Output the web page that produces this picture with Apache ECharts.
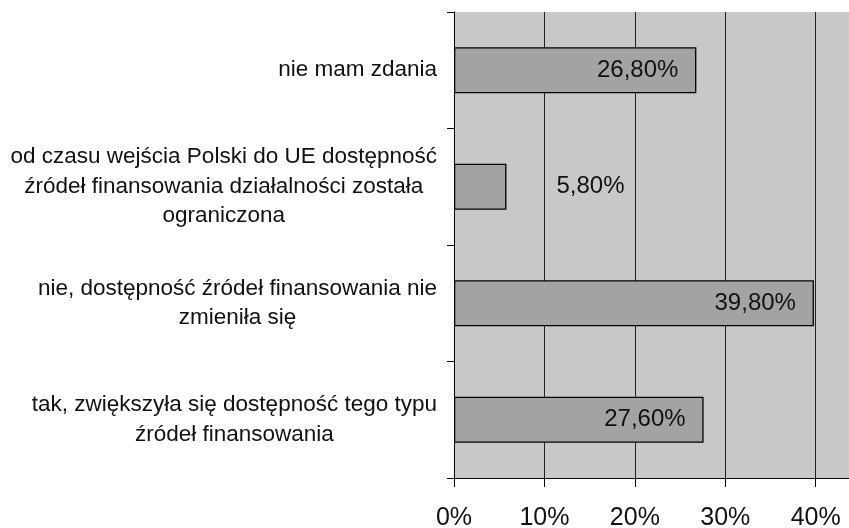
<!DOCTYPE html>
<html lang="pl">
<head>
<meta charset="UTF-8">
<title>Dostępność źródeł finansowania</title>
<script src="https://cdn.jsdelivr.net/npm/echarts@6/dist/echarts.min.js"></script>
<style>
  html, body { margin: 0; padding: 0; background: #fff; }
  #main { width: 849px; height: 528px; }
</style>
</head>
<body>
<div id="main"></div>
<script>
// categories listed top to bottom (axis is inverted)
var categories = [
  'nie mam zdania',
  'od czasu wejścia Polski do UE dostępność\nźródeł finansowania działalności została\nograniczona',
  'nie, dostępność źródeł finansowania nie\nzmieniła się',
  'tak, zwiększyła się dostępność tego typu\nźródeł finansowania'
];
var values = [26.8, 5.8, 39.8, 27.6];
var xTicks = [0, 10, 20, 30, 40];

var font = '"Liberation Sans", Arial, sans-serif';

function pct(v) {
  return v.toFixed(2).replace('.', ',') + '%';
}

var seriesData = values.map(function (v) {
  var item = { value: v };
  // short bar: label sits outside, like in the source chart
  if (v < 10) {
    item.label = { position: 'right', distance: 50 };
  }
  return item;
});

var myChart = echarts.init(document.getElementById('main'));
var option = {
  animation: false,
  grid: {
    left: 454,
    right: -2,
    top: 12,
    bottom: 50,
    outerBoundsMode: 'none',
    show: true,
    backgroundColor: '#c8c8c8',
    borderWidth: 0
  },
  xAxis: {
    type: 'value',
    min: xTicks[0],
    max: 43.9,
    interval: 10,
    axisLine: { show: true, lineStyle: { color: '#000', width: 1 } },
    axisTick: { show: true, length: 9, lineStyle: { color: '#000' } },
    splitLine: { show: true, lineStyle: { color: '#222', width: 1 } },
    axisLabel: {
      formatter: '{value}%',
      showMaxLabel: false,
      margin: 28,
      fontFamily: font,
      fontSize: 25,
      color: '#111'
    }
  },
  yAxis: {
    type: 'category',
    inverse: true,
    data: categories,
    axisLine: { show: true, lineStyle: { color: '#000', width: 1 } },
    axisTick: { show: true, length: 7, lineStyle: { color: '#000' } },
    axisLabel: {
      margin: 17,
      formatter: function (s) {
        return s.split('\n').map(function (l) { return '{c|' + l + '}'; }).join('\n');
      },
      rich: {
        c: {
          align: 'center',
          fontFamily: font,
          fontSize: 22.5,
          lineHeight: 29.5,
          color: '#111'
        }
      }
    }
  },
  series: [{
    type: 'bar',
    data: seriesData,
    barWidth: 46,
    itemStyle: { color: '#a3a3a3', borderColor: '#000', borderWidth: 1.3 },
    label: {
      show: true,
      position: 'insideRight',
      distance: 18,
      formatter: function (p) { return pct(p.value); },
      fontFamily: font,
      fontSize: 24,
      color: '#111'
    }
  }]
};
myChart.setOption(option);
</script>
</body>
</html>
